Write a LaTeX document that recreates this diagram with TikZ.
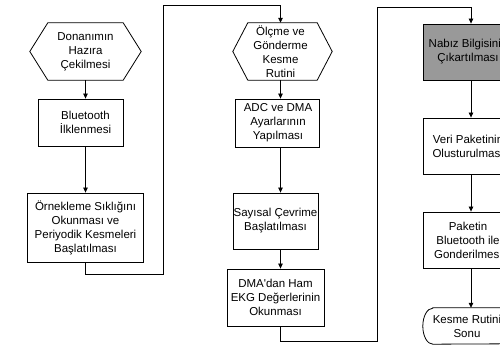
\documentclass[tikz,border=0pt]{standalone}
\usepackage{fontspec}
\setmainfont{Liberation Sans}
\usetikzlibrary{arrows.meta,calc}
\definecolor{boxgray}{RGB}{153,153,153}
\tikzset{
  txt/.style={inner sep=0pt, align=center, font=\fontsize{11.5}{14}\selectfont},
  stepbox/.style={inner sep=0pt, draw, line width=0.8pt},
  ghost/.style={inner sep=0pt},
  arr/.style={line width=0.8pt, -{Triangle[length=5pt,width=4.5pt]}},
  shapeline/.style={line width=0.8pt}
}
\begin{document}
\begin{tikzpicture}[x=1pt,y=1pt]
\useasboundingbox (0,0) rectangle (500,352);
\fill[white] (0,0) rectangle (500,352);
\clip (0,0) rectangle (500,352);

% column axes for connectors
\coordinate (lx) at (85.5,0);
\coordinate (mx) at (280.5,0);
\coordinate (rx) at (471,0);

% left column
\node[ghost, minimum width=111, minimum height=57] (h1) at (85.5,300.5) {};
\draw[shapeline] (h1.west) -- ([xshift=18pt]h1.north west) -- ([xshift=-18pt]h1.north east) -- (h1.east) -- ([xshift=-18pt]h1.south east) -- ([xshift=18pt]h1.south west) -- cycle;
\node[txt] (h1t) at (85.5,300.5) {Donanımın\\Hazıra\\Çekilmesi};
\node[stepbox, minimum width=85, minimum height=47] (b1) at (80.5,229.5) {};
\node[txt] (b1t) at (85.5,229.5) {Bluetooth\\İlklenmesi};
\node[stepbox, minimum width=116, minimum height=69] (b2) at (85,124.5) {};
\node[txt] (b2t) at (85.5,124.5) {Örnekleme Sıklığını\\Okunması ve\\Periyodik Kesmeleri\\Başlatılması};

% middle column
\node[ghost, minimum width=99, minimum height=57] (h2) at (282.5,300.5) {};
\draw[shapeline] (h2.west) -- ([xshift=15pt]h2.north west) -- ([xshift=-15pt]h2.north east) -- (h2.east) -- ([xshift=-15pt]h2.south east) -- ([xshift=15pt]h2.south west) -- cycle;
\node[txt] (h2t) at (280.5,300.5) {Ölçme ve\\Gönderme\\Kesme\\Rutini};
\node[stepbox, minimum width=84, minimum height=48] (b3) at (277,229) {};
\node[txt] (b3t) at (278,229) {ADC ve DMA\\Ayarlarının\\Yapılması};
\node[stepbox, minimum width=85, minimum height=56] (b4) at (275.5,131) {};
\node[txt] (b4t) at (275.5,131) {Sayısal Çevrime\\Başlatılması};
\node[stepbox, minimum width=97, minimum height=57] (b5) at (275.5,54.5) {};
\node[txt] (b5t) at (275.5,54.5) {DMA\textquotesingle dan Ham\\EKG Değerlerinin\\Okunması};

% right column
\node[stepbox, fill=boxgray, minimum width=96, minimum height=56] (n1) at (471,300) {};
\node[txt] (n1t) at (468,300) {Nabız Bilgisinin\\Çıkartılması};
\node[stepbox, minimum width=96, minimum height=56] (n2) at (471,206) {};
\node[txt] (n2t) at (468,206) {Veri Paketinin\\Olusturulması};
\node[stepbox, minimum width=96, minimum height=56] (n3) at (471,112) {};
\node[txt] (n3t) at (468,112) {Paketin\\Bluetooth ile\\Gonderilmesi};
\node[ghost, minimum width=96, minimum height=36] (t) at (471,26) {};
\draw[shapeline] ([xshift=10pt]t.north west) -- ([xshift=-10pt]t.north east)
  arc[start angle=90, end angle=-90, x radius=10pt, y radius=18pt]
  -- ([xshift=10pt]t.south west)
  arc[start angle=270, end angle=90, x radius=10pt, y radius=18pt] -- cycle;
\node[txt] (tt) at (467,26) {Kesme Rutini\\Sonu};

% loop corner points
\coordinate (lbot) at (163,78);
\coordinate (ltop) at (163,346.5);
\coordinate (mbot) at (377,11);
\coordinate (mtop) at (377,345);

% connectors
\draw[arr] (h1.south -| lx) -- (b1.north -| lx);
\draw[arr] (b1.south -| lx) -- (b2.north -| lx);
\draw[arr] (b2.south -| lx) |- (lbot) -- (ltop) -| (h2.north -| mx);
\draw[arr] (h2.south -| mx) -- (b3.north -| mx);
\draw[arr] (b3.south -| mx) -- (b4.north -| mx);
\draw[arr] (b4.south -| mx) -- (b5.north -| mx);
\draw[arr] (b5.south -| mx) |- (mbot) -- (mtop) -| (n1.north -| rx);
\draw[arr] (n1.south -| rx) -- (n2.north -| rx);
\draw[arr] (n2.south -| rx) -- (n3.north -| rx);
\draw[arr] (n3.south -| rx) -- (t.north -| rx);
\end{tikzpicture}
\end{document}
